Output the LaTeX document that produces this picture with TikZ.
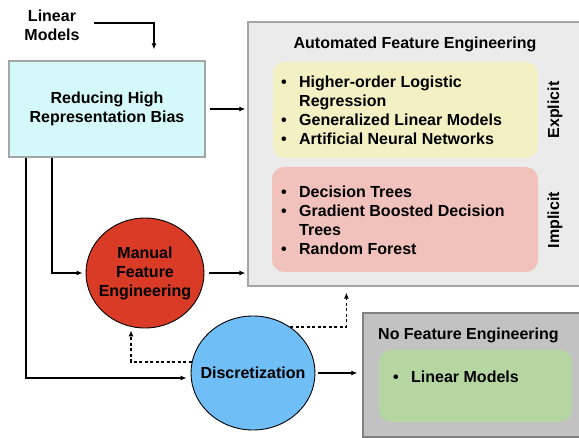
\documentclass[tikz,border=0pt]{standalone}
\usepackage{fontspec}
\setmainfont{Liberation Sans}
\usetikzlibrary{arrows.meta, shapes.geometric}

\definecolor{cyanfill}{RGB}{213,248,248}
\definecolor{autofill}{RGB}{235,235,235}
\definecolor{yellowfill}{RGB}{243,241,196}
\definecolor{redfill}{RGB}{241,193,188}
\definecolor{nofill}{RGB}{194,194,194}
\definecolor{greenfill}{RGB}{181,213,161}
\definecolor{manualred}{RGB}{217,59,39}
\definecolor{discblue}{RGB}{112,190,246}
\definecolor{edgegray}{RGB}{165,165,165}

\newcommand{\bitem}{\makebox[18pt][l]{\textbullet}}
\newcommand{\bcont}{\hspace*{18pt}}

\tikzset{
    box/.style={rectangle, draw=edgegray, line width=1.3pt, inner sep=0pt},
    panel/.style={rectangle, rounded corners=12pt, inner sep=0pt},
    blob/.style={ellipse, draw=black, line width=0.9pt, inner sep=0pt},
    arr/.style={line width=1.1pt, -{Latex[length=6pt, width=5pt]}},
    dotarr/.style={arr, line width=1.4pt, dash pattern=on 3pt off 2.5pt},
    lst/.style={anchor=base west, inner sep=0pt}
}

\begin{document}
\begin{tikzpicture}[x=1pt, y=-1pt, font=\bfseries\fontsize{16}{19}\selectfont]
    \useasboundingbox (0,0) rectangle (579,438);

    % boxes
    \node[box, fill=cyanfill, minimum width=196pt, minimum height=96pt, align=center] (rhrb) at (107,109) {Reducing High\\Representation Bias};
    \node[box, fill=autofill, minimum width=352pt, minimum height=264pt] (afe) at (424,154) {};
    \node[box, fill=nofill, draw=gray, minimum width=237pt, minimum height=124pt] (nfe) at (481.5,375) {};
    \node[panel, fill=yellowfill, minimum width=265pt, minimum height=96pt] (expl) at (405.5,110) {};
    \node[panel, fill=redfill, minimum width=266pt, minimum height=105pt] (impl) at (405,219.5) {};
    \node[panel, fill=greenfill, minimum width=193pt, minimum height=72pt] (lin) at (475.5,386) {};

    % labels
    \node[align=center, inner sep=0pt] (lm) at (52,25) {Linear\\Models};
    \node (afetitle) at (415,44) {Automated Feature Engineering};
    \node[anchor=west, inner sep=0pt] (nfetitle) at (378,335) {No Feature Engineering};
    \node[rotate=90] (expltxt) at (555,110) {Explicit};
    \node[rotate=90] (impltxt) at (555,220) {Implicit};

    \node[lst] (expllist) at (281,88) {\begin{tabular}[t]{@{}l@{}}
        \bitem Higher-order Logistic\\
        \bcont Regression\\
        \bitem Generalized Linear Models\\
        \bitem Artificial Neural Networks
    \end{tabular}};
    \node[lst] (impllist) at (281,198) {\begin{tabular}[t]{@{}l@{}}
        \bitem Decision Trees\\
        \bitem Gradient Boosted Decision\\
        \bcont Trees\\
        \bitem Random Forest
    \end{tabular}};
    \node[lst] (linlist) at (393,383) {\bitem Linear Models};

    % circles
    \node[blob, fill=manualred, minimum width=118pt, minimum height=110pt,
          label={[align=center]center:Manual\\Feature\\Engineering}] (mfe) at (145,273) {};
    \node[blob, fill=discblue, minimum width=124pt, minimum height=114pt,
          label={center:Discretization}] (disc) at (253,373) {};

    % connectors
    \draw[arr, shorten >=11pt] ([xshift=14pt, yshift=2pt]lm.east) -| ([xshift=47pt]rhrb.north);
    \draw[arr, shorten <=4pt, shorten >=2pt] (rhrb.east) -- (afe.west |- rhrb.east);
    \draw[arr, shorten <=5pt, shorten >=2pt] (mfe.east) -- (afe.west |- mfe.east);
    \draw[arr, shorten >=3pt] ([xshift=-55pt]rhrb.south) |- (mfe.west);
    \draw[arr, shorten >=4pt] ([xshift=-81pt]rhrb.south) |- ([yshift=-5pt]disc.west);
    \draw[arr, shorten <=3pt, shorten >=5pt] (disc.east) -- (nfe.west |- disc.east);
    \draw[dotarr, shorten >=2pt] (disc.170) -| ([xshift=-14pt]mfe.south);
    \draw[dotarr, shorten >=6pt] (disc.51) -| ([xshift=99pt]afe.south west);
\end{tikzpicture}
\end{document}
